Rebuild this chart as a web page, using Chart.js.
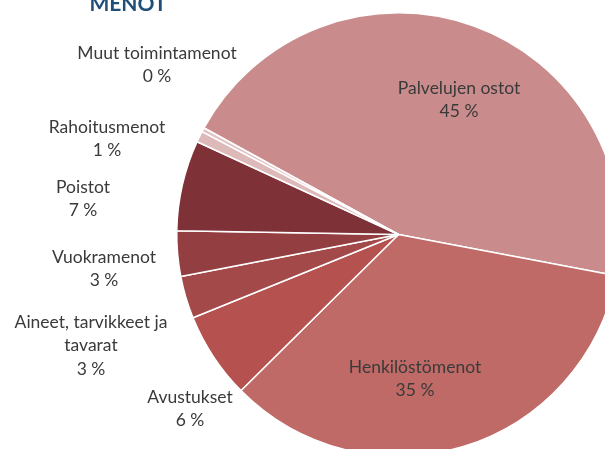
<!DOCTYPE html>
<html>
<head>
<meta charset="utf-8">
<style>
  html, body { margin: 0; padding: 0; background: #fff; overflow: hidden; }
  #wrap { position: absolute; left: 0; top: 0; width: 640px; height: 470px; }
</style>
</head>
<body>
<div id="wrap"><canvas id="myChart" width="640" height="470"></canvas></div>

<script src="https://cdn.jsdelivr.net/npm/chart.js@4.4.2/dist/chart.umd.min.js"></script>
<script>
  // data (shares of expenses, %)
  const categories = ['Palvelujen ostot', 'Henkilöstömenot', 'Avustukset', 'Aineet, tarvikkeet ja tavarat',
    'Vuokramenot', 'Poistot', 'Rahoitusmenot', 'Muut toimintamenot'];
  const labelLines = [['Palvelujen ostot'], ['Henkilöstömenot'], ['Avustukset'], ['Aineet, tarvikkeet ja', 'tavarat'],
    ['Vuokramenot'], ['Poistot'], ['Rahoitusmenot'], ['Muut toimintamenot']];
  const shares = [45.0, 34.6, 6.3, 3.1, 3.3, 6.6, 0.8, 0.3];
  const sliceColors = ['#c98b8b', '#bf6a66', '#b5514f', '#a34949', '#933e41', '#7e3136', '#ddb9b9', '#e3c4c4'];
  const chartTitle = 'MENOT';

  // label anchors (centre of first line), layout only
  const labelPos = [[459, 88], [415, 367], [190, 397], [91, 322], [104, 257], [83, 187], [107, 127], [157, 53]];

  const labelPlugin = {
    id: 'sliceLabels',
    afterDatasetsDraw(chart) {
      const c = chart.ctx;
      const total = shares.reduce((a, b) => a + b, 0);
      c.save();
      c.font = '17.5px Lato, "Open Sans", sans-serif';
      c.fillStyle = '#3a3a3a';
      c.textAlign = 'center';
      c.textBaseline = 'middle';
      shares.forEach((v, i) => {
        const lines = labelLines[i].concat([Math.round(v / total * 100) + ' %']);
        const [x, y] = labelPos[i];
        lines.forEach((t, k) => c.fillText(t, x, y + k * 23.5));
      });
      // title, mostly cut off at the top
      c.font = 'bold 21px Lato, "Open Sans", sans-serif';
      c.fillStyle = '#1f4e79';
      c.textBaseline = 'alphabetic';
      c.fillText(chartTitle, 128, 10.5);
      c.restore();
    }
  };

  const ctx = document.getElementById('myChart');
  const myChart = new Chart(ctx, {
    type: 'pie',
    data: {
      labels: categories,
      datasets: [{
        data: shares,
        backgroundColor: sliceColors,
        borderColor: '#ffffff',
        borderWidth: 1.5
      }]
    },
    options: {
      responsive: false,
      animation: false,
      rotation: -61.3,
      layout: { padding: { left: 176, top: 12, right: 19, bottom: 13 } },
      plugins: {
        legend: { display: false },
        tooltip: { enabled: false }
      }
    },
    plugins: [labelPlugin]
  });
</script>
</body>
</html>
